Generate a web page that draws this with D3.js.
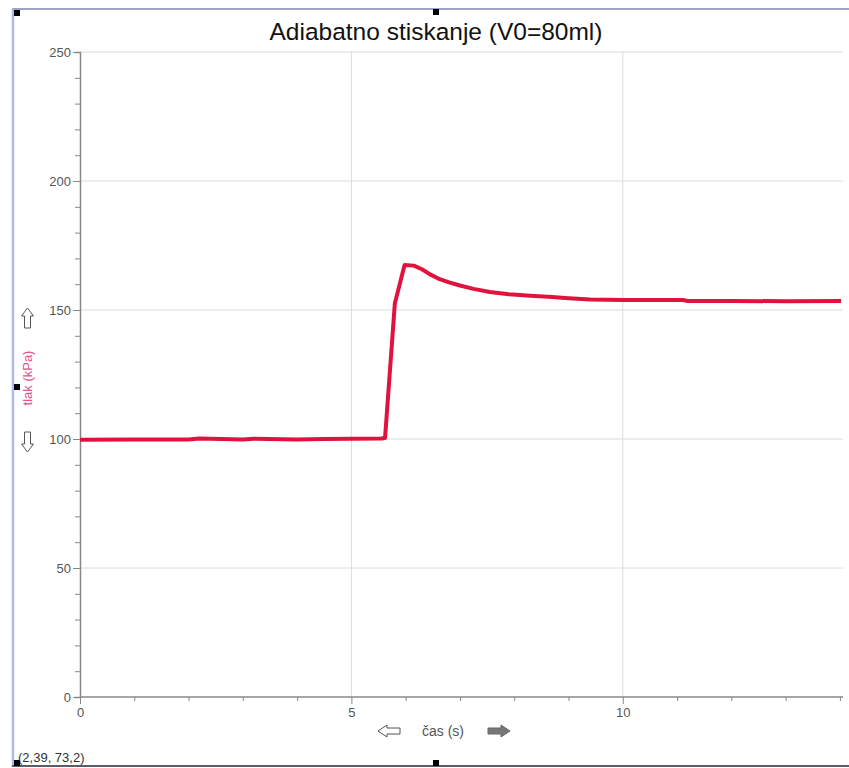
<!DOCTYPE html>
<html>
<head>
<meta charset="utf-8">
<script src="https://cdn.jsdelivr.net/npm/d3@7"></script>
<style>
  body { margin: 0; background: #fff; }
  svg text { font-family: "Liberation Sans", Arial, sans-serif; }
</style>
</head>
<body>
<div id="chart"></div>
<script>
var timeS = [0, 1, 2, 2.2, 2.6, 3.0, 3.2, 4.0, 4.5, 5.0, 5.55, 5.62, 5.8, 5.98, 6.15, 6.3, 6.45, 6.6, 6.8, 7.0, 7.25, 7.55, 7.9, 8.3, 8.7, 9.0, 9.4, 10, 11.1, 11.2, 12, 13, 14.02];
var pressure = [99.7, 99.8, 99.8, 100.2, 100, 99.8, 100.1, 99.8, 100, 100.1, 100.2, 100.4, 152.5, 167.4, 167.2, 165.8, 163.8, 162.2, 160.7, 159.5, 158.2, 157.0, 156.1, 155.5, 155.0, 154.6, 154.1, 153.9, 153.9, 153.5, 153.5, 153.4, 153.5];
var yTicks = [0, 50, 100, 150, 200, 250];
var xTicks = [0, 5, 10];
var title = "Adiabatno stiskanje (V0=80ml)";
var xLabel = "čas (s)";
var yLabel = "tlak (kPa)";
var cornerText = "(2,39, 73,2)";

var W = 849, H = 768;
var svg = d3.select("#chart").append("svg")
    .attr("width", W)
    .attr("height", H);

var x = d3.scaleLinear().domain([0, 14.02]).range([80, 841]);
var y = d3.scaleLinear().domain([0, 250]).range([697, 52]);

// frame
svg.append("line").attr("x1", 12).attr("x2", W).attr("y1", 9).attr("y2", 9)
    .style("stroke", "#a0a2c4").style("stroke-width", 2);
svg.append("line").attr("x1", 13).attr("x2", 13).attr("y1", 9).attr("y2", 767)
    .style("stroke", "#b4b6ec").style("stroke-width", 2.5);
svg.append("line").attr("x1", 12).attr("x2", W).attr("y1", 766).attr("y2", 766)
    .style("stroke", "#5a5c6e").style("stroke-width", 2);

// grid
svg.append("g")
    .selectAll("line.hg")
    .data(yTicks.filter(function(d) { return d > 0; }))
    .enter().append("line")
    .attr("x1", x(0)).attr("x2", 843)
    .attr("y1", function(d) { return y(d); })
    .attr("y2", function(d) { return y(d); })
    .style("stroke", "#dcdcdc").style("stroke-width", 1);
svg.append("g")
    .selectAll("line.vg")
    .data(xTicks.filter(function(d) { return d > 0; }))
    .enter().append("line")
    .attr("x1", function(d) { return x(d); })
    .attr("x2", function(d) { return x(d); })
    .attr("y1", y(250)).attr("y2", y(0))
    .style("stroke", "#dcdcdc").style("stroke-width", 1);

// y axis: minor ticks every 10, labels every 50
var yMinor = d3.range(0, 251, 10);
var yAxis = svg.append("g")
    .attr("transform", "translate(" + x(0) + ",0)")
    .call(d3.axisLeft(y).tickValues(yMinor).tickSize(5)
        .tickFormat(function(d) { return d % 50 === 0 ? d : ""; }));
yAxis.selectAll("line").style("stroke", "#888");
yAxis.select(".domain").style("stroke", "#888").style("stroke-width", 1.5);
yAxis.selectAll("g.tick").filter(function(d) { return d % 50 === 0; })
    .select("line").attr("x2", -7);
yAxis.selectAll("text").attr("x", -9).style("font-size", "13px").style("fill", "#555");

// x axis: minor ticks every 1, labels every 5
var xMinor = d3.range(0, 15, 1);
var xAxis = svg.append("g")
    .attr("transform", "translate(0," + y(0) + ")")
    .call(d3.axisBottom(x).tickValues(xMinor).tickSize(4)
        .tickFormat(function(d) { return d % 5 === 0 ? d : ""; }));
xAxis.selectAll("line").style("stroke", "#888");
xAxis.select(".domain").style("stroke", "#888").style("stroke-width", 1.5).attr("d", "M" + x(0) + ",0H843");
xAxis.selectAll("g.tick").filter(function(d) { return d % 5 === 0; })
    .select("line").attr("y2", 7);
xAxis.selectAll("text").attr("y", 11).style("font-size", "13px").style("fill", "#555");

// data line
var line = d3.line()
    .x(function(d, i) { return x(timeS[i]); })
    .y(function(d) { return y(d); });
svg.append("path")
    .datum(pressure)
    .attr("d", line)
    .style("fill", "none")
    .style("stroke", "#e2123e")
    .style("stroke-width", 4)
    .style("stroke-linejoin", "round");

// title
svg.append("text")
    .attr("x", 436).attr("y", 40)
    .attr("text-anchor", "middle")
    .style("font-size", "24.5px").style("fill", "#111")
    .text(title);

// axis labels
svg.append("text")
    .attr("transform", "translate(32,378) rotate(-90)")
    .attr("text-anchor", "middle")
    .style("font-size", "13px").style("fill", "#e8508a")
    .text(yLabel);
svg.append("text")
    .attr("x", 443).attr("y", 736)
    .attr("text-anchor", "middle")
    .style("font-size", "14px").style("fill", "#555")
    .text(xLabel);

// scroll arrows
function arrowUp(cx, top) {
    return "M" + cx + "," + top + "l6,8h-3v12h-6v-12h-3z";
}
function arrowDown(cx, bot) {
    return "M" + cx + "," + bot + "l6,-8h-3v-12h-6v12h-3z";
}
svg.append("path").attr("d", arrowUp(27.5, 308))
    .style("fill", "#fff").style("stroke", "#555").style("stroke-width", 1);
svg.append("path").attr("d", arrowDown(27.5, 452))
    .style("fill", "#fff").style("stroke", "#555").style("stroke-width", 1);
svg.append("path").attr("d", "M378,731l9,-6v3h13v6h-13v3z")
    .style("fill", "#fff").style("stroke", "#555").style("stroke-width", 1);
svg.append("path").attr("d", "M510,731l-9,-6v3h-13v6h13v3z")
    .style("fill", "#777").style("stroke", "#666").style("stroke-width", 1);

// corner readout
svg.append("text")
    .attr("x", 18).attr("y", 762)
    .style("font-size", "13px").style("fill", "#333")
    .text(cornerText);

// selection handles
var handles = [[14, 10], [433, 9], [14, 384], [14, 760], [433, 760]];
svg.selectAll("rect.handle")
    .data(handles)
    .enter().append("rect")
    .attr("x", function(d) { return d[0]; })
    .attr("y", function(d) { return d[1]; })
    .attr("width", 6).attr("height", 6)
    .style("fill", "#000");
</script>
</body>
</html>
